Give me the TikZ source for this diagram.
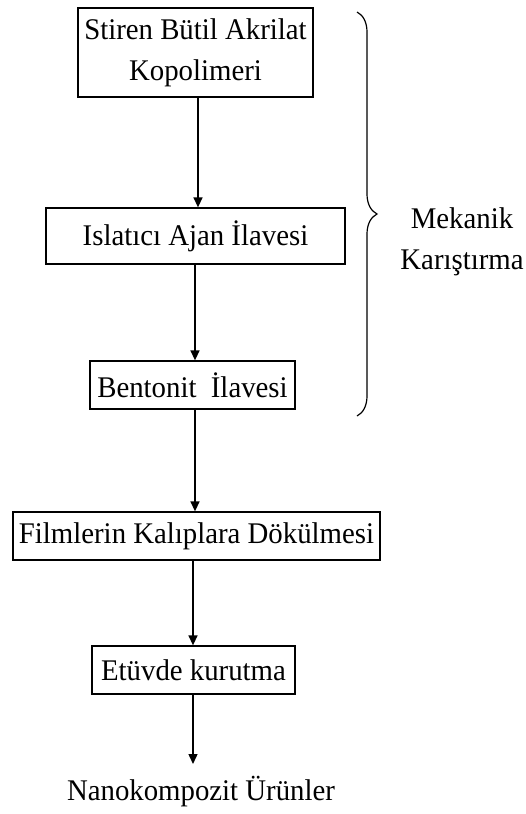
\documentclass[tikz,border=0pt]{standalone}
\usepackage{fontspec}
\setmainfont[FakeStretch=0.96]{Liberation Serif}
\usepackage{tikz}
\usetikzlibrary{arrows.meta,decorations.pathreplacing}

\begin{document}
\begin{tikzpicture}[x=1pt, y=-1pt,
    stepbox/.style={draw, line width=1.3pt, inner sep=0pt, align=center, font=\fontsize{30}{41}\selectfont},
    flow/.style={line width=1.4pt, -{Triangle[width=9pt,length=10pt]}}]
        \useasboundingbox (0,0) rectangle (525,814);

        \node[stepbox, minimum width=235pt, minimum height=89pt] (kopolimer) at (195.5, 52.5) {Stiren Bütil Akrilat\\Kopolimeri};
        \node[stepbox, minimum width=299pt, minimum height=56pt] (islatici) at (195.5, 236) {Islatıcı Ajan İlavesi};
        \node[stepbox, minimum width=205pt, minimum height=48pt] (bentonit) at (192.5, 385) {Bentonit~~İlavesi};
        \node[stepbox, minimum width=367pt, minimum height=48pt] (dokum) at (196.5, 536) {Filmlerin Kalıplara Dökülmesi};
        \node[stepbox, minimum width=203pt, minimum height=48pt] (etuv) at (193.5, 670) {Etüvde kurutma};
        \node[font=\fontsize{30}{41}\selectfont] (urun) at (201, 792) {Nanokompozit Ürünler};
        \coordinate (urunust) at (193, 764);

        \draw[flow] (kopolimer.south -| 198,0) -- (islatici.north -| 198,0);
        \draw[flow] (islatici.south -| 195,0) -- (bentonit.north -| 195,0);
        \draw[flow] (bentonit.south -| 195,0) -- (dokum.north -| 195,0);
        \draw[flow] (dokum.south -| 193,0) -- (etuv.north -| 193,0);
        \draw[flow] (etuv.south -| 193,0) -- (urunust);

        % karistirma grubu
        \coordinate (parantezust) at (357, 12);
        \coordinate (parantezalt) at (357, 416);
        \draw[line width=1.2pt, decorate, decoration={brace, amplitude=20pt}] (parantezust) -- (parantezalt);
        \node[font=\fontsize{30}{41}\selectfont, align=center] (mekanik) at (462, 242) {Mekanik\\Karıştırma};
\end{tikzpicture}
\end{document}
